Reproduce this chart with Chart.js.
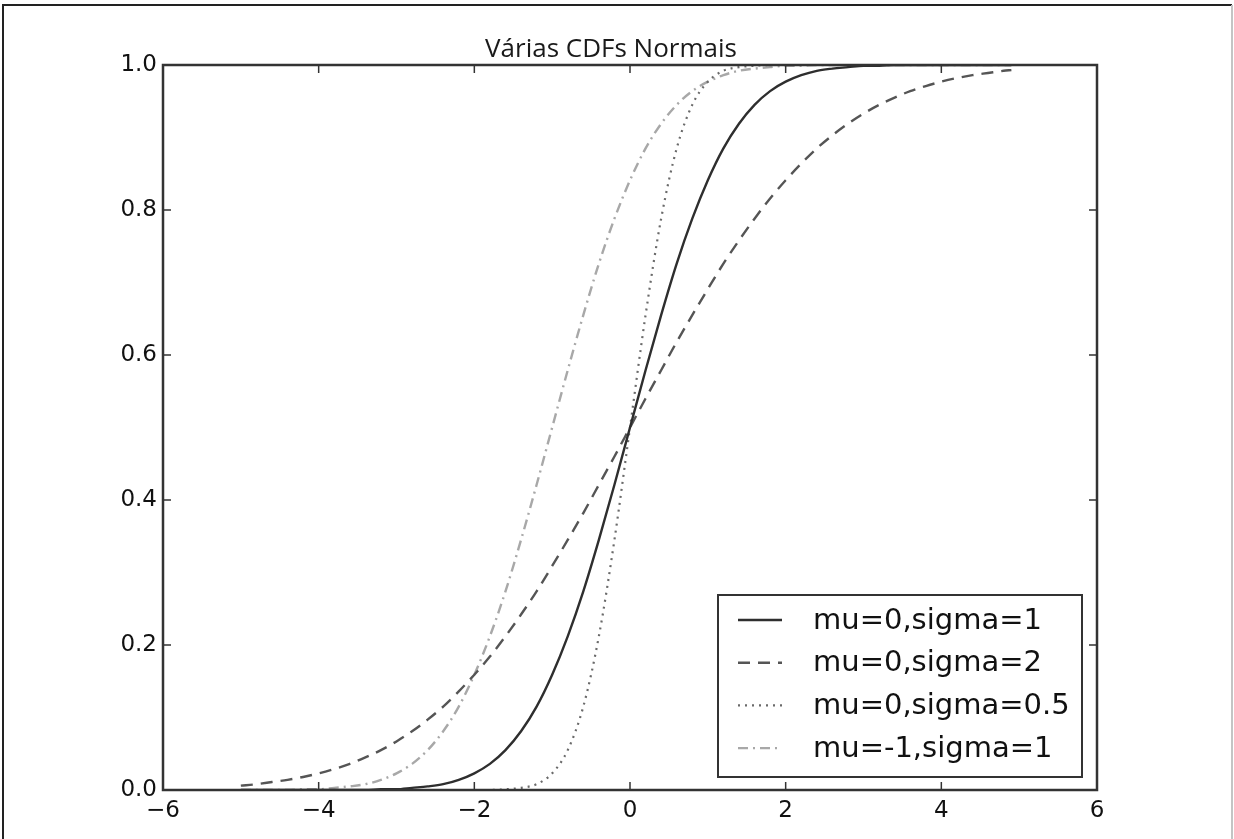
<!DOCTYPE html>
<html>
<head>
<meta charset="utf-8">
<script src="https://cdn.jsdelivr.net/npm/chart.js@4/dist/chart.umd.min.js"></script>
<style>
    html, body {margin: 0; padding: 0; background: #fff;}
    #wrap {width: 1234px; height: 839px; position: relative;}
</style>
</head>
<body>
<div id="wrap"><canvas id="chart" width="1234" height="839"></canvas></div>
<script>
    // values, x from -5 to 4.9
    let xs = [-5.0, -4.8, -4.6, -4.4, -4.2, -4.0, -3.8, -3.6, -3.4, -3.2, -3.0, -2.8, -2.6, -2.4, -2.2, -2.0, -1.8,
        -1.6, -1.4, -1.2, -1.0, -0.8, -0.6, -0.4, -0.2, 0.0, 0.2, 0.4, 0.6, 0.8, 1.0, 1.2, 1.4, 1.6, 1.8, 2.0, 2.2,
        2.4, 2.6, 2.8, 3.0, 3.2, 3.4, 3.6, 3.8, 4.0, 4.2, 4.4, 4.6, 4.8, 4.9];

    let cdfMu0Sigma1 = [0.000, 0.000, 0.000, 0.000, 0.000, 0.000, 0.000, 0.000, 0.000, 0.001, 0.001, 0.003, 0.005,
        0.008, 0.014, 0.023, 0.036, 0.055, 0.081, 0.115, 0.159, 0.212, 0.274, 0.345, 0.421, 0.500, 0.579, 0.655,
        0.726, 0.788, 0.841, 0.885, 0.919, 0.945, 0.964, 0.977, 0.986, 0.992, 0.995, 0.997, 0.999, 0.999, 1.000,
        1.000, 1.000, 1.000, 1.000, 1.000, 1.000, 1.000, 1.000];

    let cdfMu0Sigma2 = [0.006, 0.008, 0.011, 0.014, 0.018, 0.023, 0.029, 0.036, 0.045, 0.055, 0.067, 0.081, 0.097,
        0.115, 0.136, 0.159, 0.184, 0.212, 0.242, 0.274, 0.309, 0.345, 0.382, 0.421, 0.460, 0.500, 0.540, 0.579,
        0.618, 0.655, 0.691, 0.726, 0.758, 0.788, 0.816, 0.841, 0.864, 0.885, 0.903, 0.919, 0.933, 0.945, 0.955,
        0.964, 0.971, 0.977, 0.982, 0.986, 0.989, 0.992, 0.993];

    let cdfMu0Sigma05 = [0.000, 0.000, 0.000, 0.000, 0.000, 0.000, 0.000, 0.000, 0.000, 0.000, 0.000, 0.000, 0.000,
        0.000, 0.000, 0.000, 0.000, 0.001, 0.003, 0.008, 0.023, 0.055, 0.115, 0.212, 0.345, 0.500, 0.655, 0.788,
        0.885, 0.945, 0.977, 0.992, 0.997, 0.999, 1.000, 1.000, 1.000, 1.000, 1.000, 1.000, 1.000, 1.000, 1.000,
        1.000, 1.000, 1.000, 1.000, 1.000, 1.000, 1.000, 1.000];

    let cdfMuM1Sigma1 = [0.000, 0.000, 0.000, 0.000, 0.001, 0.001, 0.003, 0.005, 0.008, 0.014, 0.023, 0.036, 0.055,
        0.081, 0.115, 0.159, 0.212, 0.274, 0.345, 0.421, 0.500, 0.579, 0.655, 0.726, 0.788, 0.841, 0.885, 0.919,
        0.945, 0.964, 0.977, 0.986, 0.992, 0.995, 0.997, 0.999, 0.999, 1.000, 1.000, 1.000, 1.000, 1.000, 1.000,
        1.000, 1.000, 1.000, 1.000, 1.000, 1.000, 1.000, 1.000];

    let seriesLabels = ['mu=0,sigma=1', 'mu=0,sigma=2', 'mu=0,sigma=0.5', 'mu=-1,sigma=1'];
    let seriesValues = [cdfMu0Sigma1, cdfMu0Sigma2, cdfMu0Sigma05, cdfMuM1Sigma1];
    let seriesColors = ['#2e2e2e', '#555555', '#6a6a6a', '#a8a8a8'];
    let seriesDashes = [[], [12, 8], [2, 5], [10, 5, 2, 5]];
    let seriesWidths = [2.4, 2.4, 2.2, 2.4];

    let chartTitle = 'Várias CDFs Normais';
    let xTicks = [-6, -4, -2, 0, 2, 4, 6];
    let yTicks = [0.0, 0.2, 0.4, 0.6, 0.8, 1.0];

    function formatX(v) {
        return v < 0 ? '\u2212' + Math.abs(v) : String(v);
    }

    let datasets = seriesValues.map(function (vals, i) {
        return {
            label: seriesLabels[i],
            data: xs.map(function (x, j) { return {x: x, y: vals[j]}; }),
            borderColor: seriesColors[i],
            borderDash: seriesDashes[i],
            borderWidth: seriesWidths[i],
            pointRadius: 0,
            fill: false,
            cubicInterpolationMode: 'monotone',
        };
    });

    // frame, inward ticks, title and legend box, matplotlib style
    let mplDecor = {
        id: 'mplDecor',
        afterDraw: function (chart) {
            let ctx = chart.ctx;
            let area = chart.chartArea;
            let sx = chart.scales.x;
            let sy = chart.scales.y;
            ctx.save();

            // figure border
            ctx.lineWidth = 2;
            ctx.strokeStyle = '#222';
            ctx.beginPath();
            ctx.moveTo(3, 839);
            ctx.lineTo(3, 5);
            ctx.lineTo(1232, 5);
            ctx.stroke();
            ctx.strokeStyle = '#c4c4c4';
            ctx.beginPath();
            ctx.moveTo(1232, 5);
            ctx.lineTo(1232, 839);
            ctx.stroke();

            // ticks
            ctx.strokeStyle = '#333';
            ctx.lineWidth = 1.5;
            let tl = 8;
            xTicks.forEach(function (v) {
                let px = sx.getPixelForValue(v);
                ctx.beginPath();
                ctx.moveTo(px, area.bottom);
                ctx.lineTo(px, area.bottom - tl);
                ctx.moveTo(px, area.top);
                ctx.lineTo(px, area.top + tl);
                ctx.stroke();
            });
            yTicks.forEach(function (v) {
                let py = sy.getPixelForValue(v);
                ctx.beginPath();
                ctx.moveTo(area.left, py);
                ctx.lineTo(area.left + tl, py);
                ctx.moveTo(area.right, py);
                ctx.lineTo(area.right - tl, py);
                ctx.stroke();
            });

            // axes frame
            ctx.lineWidth = 2.5;
            ctx.strokeStyle = '#333';
            ctx.strokeRect(area.left, area.top, area.right - area.left, area.bottom - area.top);

            // title
            ctx.fillStyle = '#1a1a1a';
            ctx.font = '26px "Open Sans"';
            ctx.textAlign = 'center';
            ctx.textBaseline = 'alphabetic';
            ctx.fillText(chartTitle, 611, 57);

            // legend
            let lx = 718, ly = 595, lw = 364, lh = 182;
            ctx.fillStyle = '#fff';
            ctx.fillRect(lx, ly, lw, lh);
            ctx.lineWidth = 2;
            ctx.strokeStyle = '#333';
            ctx.strokeRect(lx, ly, lw, lh);
            ctx.font = '29px "DejaVu Sans"';
            ctx.textAlign = 'left';
            ctx.textBaseline = 'middle';
            chart.data.datasets.forEach(function (ds, i) {
                let y = 620 + i * 42.7;
                ctx.strokeStyle = ds.borderColor;
                ctx.lineWidth = ds.borderWidth;
                ctx.setLineDash(ds.borderDash);
                ctx.beginPath();
                ctx.moveTo(738, y);
                ctx.lineTo(782, y);
                ctx.stroke();
                ctx.setLineDash([]);
                ctx.fillStyle = '#111';
                ctx.fillText(ds.label, 813, y + 1);
            });
            ctx.restore();
        }
    };

    let tickFont = {family: '"DejaVu Sans"', size: 23};

    let cfg = {
        type: 'line',
        data: {datasets: datasets},
        options: {
            responsive: false,
            animation: false,
            layout: {padding: {top: 65, right: 137, bottom: 0, left: 0}},
            plugins: {
                legend: {display: false},
                title: {display: false},
                tooltip: {enabled: false},
            },
            scales: {
                x: {
                    type: 'linear',
                    min: -6,
                    max: 6,
                    afterFit: function (scale) { scale.height = 49; },
                    afterBuildTicks: function (scale) {
                        scale.ticks = xTicks.map(function (v) { return {value: v}; });
                    },
                    grid: {display: false, drawTicks: false, tickLength: 0},
                    border: {display: false},
                    ticks: {
                        color: '#111',
                        font: tickFont,
                        padding: 7,
                        maxRotation: 0,
                        callback: function (v) { return formatX(v); },
                    },
                },
                y: {
                    type: 'linear',
                    min: 0,
                    max: 1,
                    afterFit: function (scale) { scale.width = 163; },
                    afterBuildTicks: function (scale) {
                        scale.ticks = yTicks.map(function (v) { return {value: v}; });
                    },
                    grid: {display: false, drawTicks: false, tickLength: 0},
                    border: {display: false},
                    ticks: {
                        color: '#111',
                        font: tickFont,
                        padding: 6,
                        callback: function (v) { return v.toFixed(1); },
                    },
                },
            },
        },
        plugins: [mplDecor],
    };

    new Chart(document.getElementById('chart'), cfg);
</script>
</body>
</html>
